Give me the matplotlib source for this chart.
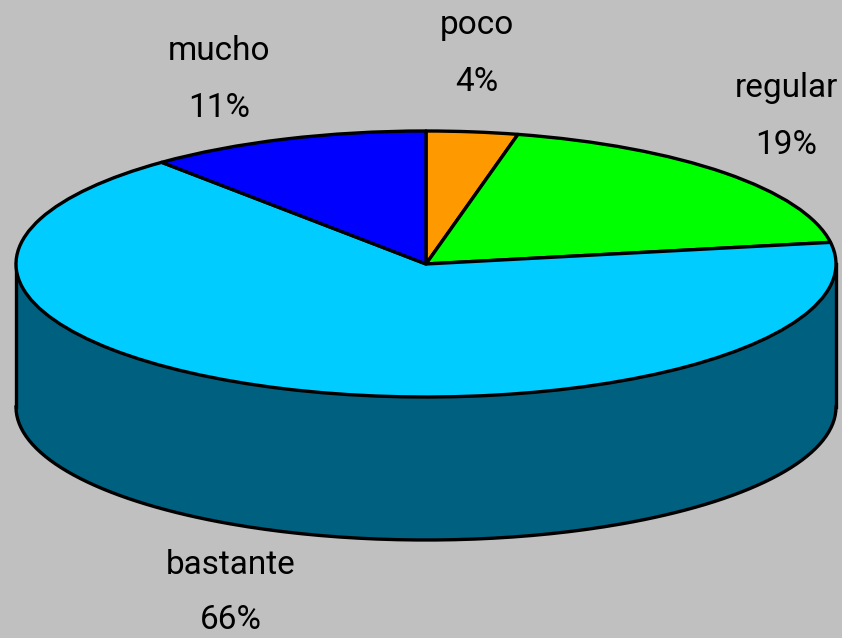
import numpy as np
import matplotlib
matplotlib.use("Agg")
import matplotlib.pyplot as plt

labels = ["poco", "regular", "bastante", "mucho"]
# labels on the chart are rounded, slices read a bit off the whole numbers
values = [3.6, 18.8, 66.45, 11.15]
top_colors = ["#ff9900", "#00ff00", "#00ccff", "#0000ff"]
wall_color = "#006080"
bg_color = "#c0c0c0"

plt.rcParams["font.family"] = ["Roboto", "Liberation Sans", "DejaVu Sans"]

# pie is squashed into an ellipse by the axes limits, 1 unit = rx / ry pixels
W, H = 842, 638
cx, cy, rx, ry = 426, 264, 410, 133
depth = 143 / ry
lw = 2.4

fig = plt.figure(figsize=(W / 100, H / 100), dpi=100, facecolor=bg_color)
ax = fig.add_axes([0, 0, 1, 1])

# side wall, only the front half of the ellipse shows
theta = np.linspace(np.pi, 2 * np.pi, 200)
xs = np.cos(theta)
ys = np.sin(theta)
ax.fill_between(xs, ys, ys - depth, color=wall_color, lw=0, zorder=1)
ax.plot(xs, ys - depth, color="black", lw=lw, zorder=2)
ax.plot([-1, -1], [0, -depth], color="black", lw=lw, zorder=2)
ax.plot([1, 1], [0, -depth], color="black", lw=lw, zorder=2)

ax.pie(values, colors=top_colors, startangle=90, counterclock=False, radius=1,
       wedgeprops={"edgecolor": "black", "linewidth": lw, "zorder": 3,
                   "joinstyle": "round"})

ax.set_aspect("auto")
ax.set_xlim((0 - cx) / rx, (W - cx) / rx)
ax.set_ylim((cy - H) / ry, cy / ry)
ax.axis("off")


def px(x, y):
    return (x - cx) / rx, (cy - y) / ry


label_pos = [(477, 25), (786, 88), (231, 565), (219, 51)]
pct_pos = [(477, 82), (786, 145), (231, 620), (219, 108)]
for name, val, p1, p2 in zip(labels, values, label_pos, pct_pos):
    ax.text(*px(*p1), name, ha="center", va="center", fontsize=24)
    ax.text(*px(*p2), f"{val:.0f}%", ha="center", va="center", fontsize=24)

fig.savefig("out.png", dpi=100, facecolor=bg_color)
